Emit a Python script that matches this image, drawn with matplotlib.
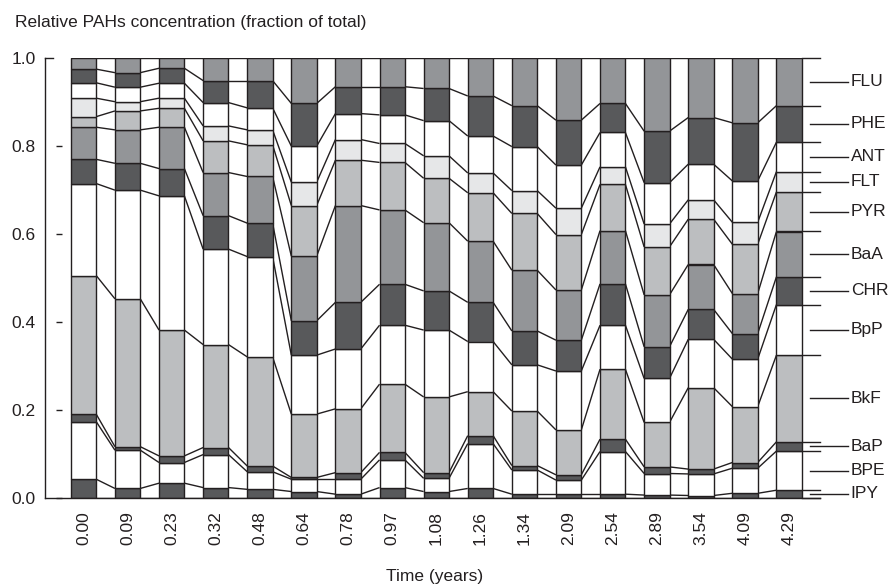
import numpy as np
import matplotlib
matplotlib.use("Agg")
import matplotlib.pyplot as plt

plt.rcParams['font.family'] = ['Liberation Sans', 'DejaVu Sans']

# Sampling times (years)
times = ["0.00", "0.09", "0.23", "0.32", "0.48", "0.64", "0.78", "0.97", "1.08",
         "1.26", "1.34", "2.09", "2.54", "2.89", "3.54", "4.09", "4.29"]

# Fraction of total PAHs per compound (stack order: bottom to top)
IPY = [.042, .021, .033, .023, .019, .014, .008, .023, .014, .021, .008, .008, .008, .006, .005, .010, .017]
BPE = [.131, .087, .047, .075, .040, .028, .034, .063, .030, .102, .055, .032, .097, .049, .049, .057, .089]
BaP = [.017, .008, .015, .016, .013, .004, .015, .017, .013, .018, .010, .012, .028, .015, .011, .013, .021]
BkF = [.315, .336, .286, .234, .248, .144, .145, .155, .172, .100, .124, .102, .159, .101, .185, .127, .197]
BpP = [.209, .247, .305, .217, .228, .134, .136, .134, .152, .114, .105, .134, .100, .100, .110, .108, .115]
CHR = [.055, .061, .062, .076, .076, .078, .106, .093, .089, .089, .077, .070, .094, .072, .068, .058, .063]
BaA = [.073, .076, .094, .098, .106, .147, .220, .169, .155, .139, .138, .114, .121, .118, .102, .091, .103]
PYR = [.024, .043, .043, .072, .072, .115, .103, .108, .101, .110, .129, .126, .105, .109, .103, .112, .090]
FLT = [.042, .021, .023, .034, .034, .053, .047, .043, .051, .045, .052, .060, .040, .052, .044, .050, .046]
ANT = [.035, .033, .034, .053, .050, .082, .059, .065, .080, .084, .100, .098, .078, .094, .081, .094, .067]
PHE = [.031, .033, .034, .050, .062, .097, .061, .064, .073, .091, .093, .102, .066, .117, .106, .132, .083]
FLU = [.026, .034, .024, .052, .052, .104, .066, .066, .070, .087, .109, .142, .104, .167, .136, .148, .109]

compounds = ["IPY", "BPE", "BaP", "BkF", "BpP", "CHR", "BaA", "PYR", "FLT", "ANT", "PHE", "FLU"]
series = [IPY, BPE, BaP, BkF, BpP, CHR, BaA, PYR, FLT, ANT, PHE, FLU]

DARK, MID, LIGHT, PALE, WHITE = "#58595b", "#939598", "#bcbec0", "#e6e7e8", "#ffffff"
colors = [DARK, WHITE, DARK, LIGHT, WHITE, DARK, MID, LIGHT, PALE, WHITE, DARK, MID]
INK = "#231f20"
LW = 1.0
FS = 12.5

data = np.array(series)                       # (12, 17)
cum = np.vstack([np.zeros(data.shape[1]), np.cumsum(data, axis=0)])  # boundaries (13, 17)

fig = plt.figure(figsize=(8.93, 5.87), dpi=100)
ax = fig.add_axes([62 / 893, 89.3 / 587, 758 / 893, 440 / 587])

x = np.arange(len(times))
w = 0.575

for k, (vals, col) in enumerate(zip(series, colors)):
    ax.bar(x, vals, bottom=cum[k], width=w, color=col, edgecolor=INK,
           linewidth=LW, zorder=3)

# Connecting lines between neighbouring bars at every boundary
for i in range(len(times) - 1):
    for k in range(cum.shape[0]):
        ax.plot([x[i] + w / 2, x[i + 1] - w / 2], [cum[k, i], cum[k, i + 1]],
                color=INK, lw=LW, zorder=2, solid_capstyle='butt')

xmin, xmax = -0.4875, 16.70
ax.set_xlim(xmin, xmax)
ax.set_ylim(0, 1.0)

# Boundary extensions to the right of the last bar
last = x[-1]
for k in range(cum.shape[0]):
    ax.plot([last + w / 2, xmax], [cum[k, -1], cum[k, -1]], color=INK, lw=LW,
            clip_on=False, zorder=2)

# Compound labels with leader lines at the middle of the last bar's segments
for k, name in enumerate(compounds):
    ymid = (cum[k, -1] + cum[k + 1, -1]) / 2
    ax.plot([16.474, 17.336], [ymid, ymid], color=INK, lw=LW, clip_on=False)
    ax.text(17.40, ymid, name, fontsize=FS, color=INK, va='center', ha='left',
            clip_on=False)

# Frame: left line, top stub and baseline
xl = -0.873
ax.plot([xl, xl], [0, 1.0], color=INK, lw=LW, clip_on=False)
ax.plot([xl, -0.692], [1.0, 1.0], color=INK, lw=LW, clip_on=False)
ax.plot([xl, xmax], [0, 0], color=INK, lw=LW, clip_on=False, zorder=4)

for s in ax.spines.values():
    s.set_visible(False)

yt = [0.0, 0.2, 0.4, 0.6, 0.8, 1.0]
ax.set_yticks(yt)
ax.set_yticklabels([f"{v:.1f}" for v in yt], fontsize=FS, color=INK)
ax.tick_params(axis='y', direction='out', length=4, width=LW, color=INK, pad=15)
ax.yaxis.get_major_ticks()[-1].tick1line.set_visible(False)

ax.set_xticks(x)
ax.set_xticklabels(times, rotation=90, fontsize=FS, color=INK)
ax.tick_params(axis='x', length=0, pad=10)

fig.text(15 / 893, 1 - 27 / 587, "Relative PAHs concentration (fraction of total)",
         fontsize=FS, color=INK, va='baseline', ha='left')
fig.text(435 / 893, 1 - 576 / 587, "Time (years)", fontsize=FS, color=INK,
         va='center', ha='center')

fig.savefig("out.png", dpi=100)
